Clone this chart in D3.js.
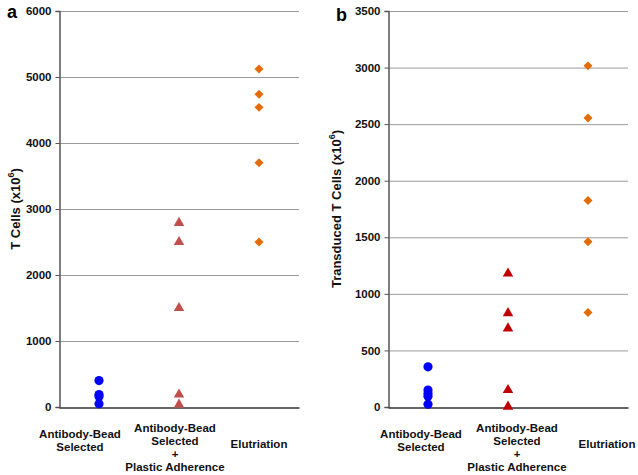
<!DOCTYPE html>
<html><head><meta charset="utf-8">
<script src="https://cdn.jsdelivr.net/npm/d3@7"></script>
<style>
body{margin:0;background:#fff;}
svg{display:block;font-family:"Liberation Sans",Arial,sans-serif;}
</style></head>
<body><svg id="c" width="638" height="475"></svg>
<script>
// ---- data ----
const categories = ["Antibody-Bead Selected", "Antibody-Bead Selected + Plastic Adherence", "Elutriation"];
const categoryLines = [["Antibody-Bead","Selected"],["Antibody-Bead","Selected","+","Plastic Adherence"],["Elutriation"]];

const aBead = [400, 190, 160, 50];
const aBeadPlastic = [2790, 2500, 1500, 190, 35];
const aElutriation = [5120, 4740, 4540, 3700, 2500];
const aTicks = [0, 1000, 2000, 3000, 4000, 5000, 6000];

const bBead = [355, 150, 120, 95, 25];
const bBeadPlastic = [1180, 830, 695, 150, 3];
const bElutriation = [3015, 2555, 1825, 1460, 835];
const bTicks = [0, 500, 1000, 1500, 2000, 2500, 3000, 3500];

// ---- layout ----
const svg = d3.select("#c");
const panels = [
  {letter:"a", x0:59, x1:299, yMax:6000, ticks:aTicks, series:[aBead,aBeadPlastic,aElutriation],
   colors:["#0000FF","#C0504D","#E36C09"], title:"T Cells (x10", titleX:15, letterX:7, letterY:18,
   labelDx:[-19,-4,0]},
  {letter:"b", x0:388, x1:628, yMax:3500, ticks:bTicks, series:[bBead,bBeadPlastic,bElutriation],
   colors:["#0000FF","#C00000","#E36C09"], title:"Transduced T Cells (x10", titleX:336, letterX:336, letterY:21,
   labelDx:[-7,9,19]}
];
const yTop = 11, yBot = 407;
const shapes = [d3.symbolCircle, d3.symbolTriangle, d3.symbolSquare];
const sizes = [66, 48, 40];
const rotations = [0, 0, 45];

panels.forEach(p => {
  const x = d3.scalePoint().domain(categories).range([p.x0, p.x1]).padding(0.5);
  const y = d3.scaleLinear().domain([0, p.yMax]).range([yBot, yTop]);
  const g = svg.append("g");

  // grid
  g.append("g").selectAll("line").data(p.ticks.filter(t => t > 0)).join("line")
    .attr("x1", p.x0).attr("x2", p.x1)
    .attr("y1", d => y(d) + 0.5).attr("y2", d => y(d) + 0.5)
    .attr("stroke", "#9a9a9a").attr("stroke-width", 1);

  // y axis
  const ya = g.append("g").attr("transform", `translate(${p.x0 + 0.5},0)`)
    .call(d3.axisLeft(y).tickValues(p.ticks).tickSize(4).tickPadding(4).tickFormat(d3.format("d")));
  ya.attr("font-size", null).attr("font-family", null);
  ya.select(".domain").attr("stroke", "#555").attr("stroke-width", 1.5);
  ya.selectAll(".tick line").attr("stroke", "#555");
  ya.selectAll(".tick text").style("font-size", "11.5px").attr("font-weight", "bold").attr("fill", "#111");

  // x axis baseline
  const xa = g.append("g").attr("transform", `translate(0,${yBot + 0.5})`)
    .call(d3.axisBottom(d3.scaleLinear().range([p.x0, p.x1])).ticks(0).tickSizeOuter(0));
  xa.select(".domain").attr("stroke", "#333").attr("stroke-width", 1.5);

  // category labels
  categories.forEach((c, i) => {
    const lines = categoryLines[i];
    const t = g.append("text").attr("text-anchor", "middle")
      .style("font-size", "11.5px").attr("font-weight", "bold").attr("fill", "#111");
    const startY = lines.length === 1 ? 448 : (lines.length === 2 ? 438 : 432);
    lines.forEach((l, k) => {
      t.append("tspan").attr("x", x(c) + p.labelDx[i]).attr("y", startY + k * 13).text(l);
    });
  });

  // markers
  p.series.forEach((vals, i) => {
    g.append("g").selectAll("path").data(vals).join("path")
      .attr("transform", d => `translate(${x(categories[i])},${y(d)}) rotate(${rotations[i]})`)
      .attr("d", d3.symbol().type(shapes[i]).size(sizes[i]))
      .attr("fill", p.colors[i]);
  });

  // title
  const tt = svg.append("text")
    .attr("transform", `translate(${p.titleX},${(yTop + yBot) / 2}) rotate(-90)`)
    .attr("text-anchor", "middle").attr("dy", "0.35em")
    .style("font-size", "13px").attr("font-weight", "bold").attr("fill", "#111");
  tt.append("tspan").text(p.title);
  tt.append("tspan").style("font-size", "9px").attr("dy", "-0.6em").text("6");
  tt.append("tspan").attr("dy", "0.45em").text(")");

  // panel letter
  svg.append("text").attr("x", p.letterX).attr("y", p.letterY)
    .style("font-size", "18px").attr("font-weight", "bold").attr("fill", "#000").text(p.letter);
});
</script></body></html>
